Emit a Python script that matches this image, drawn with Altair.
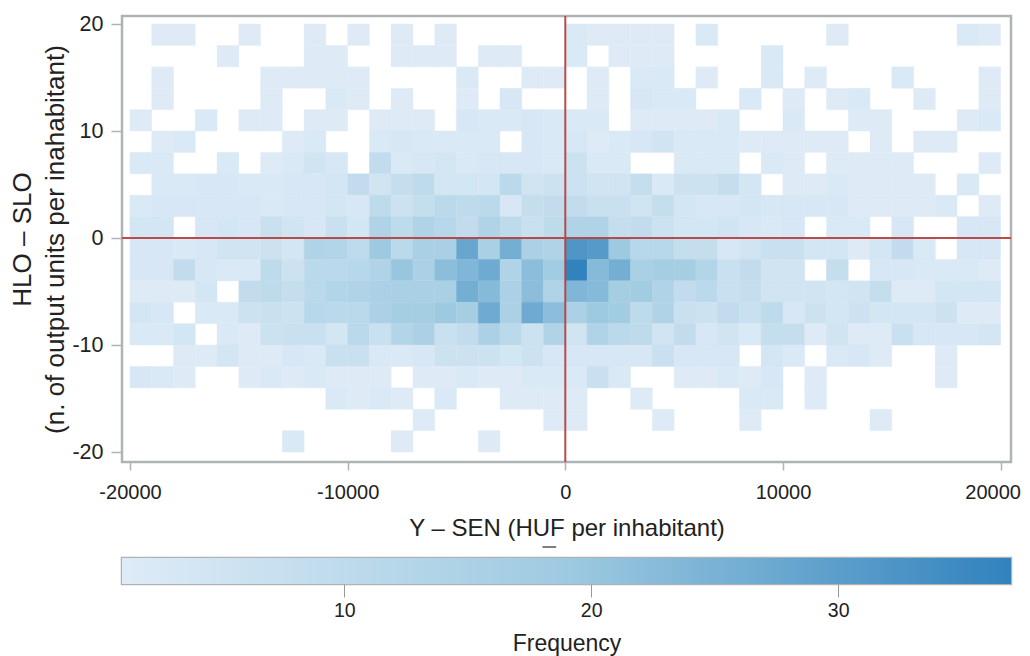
import altair as alt
import pandas as pd

x_edges_start = -20000
x_step = 1000
y_step = 2
# rows from top (18..20) to bottom (-20..-18); 40 columns from -20000 to 20000
row_p18 = [0,1,1,0,0,1,0,0,1,0,1,0,1,0,1,0,0,0,0,0, 2,1,1,1,1,0,2,0,0,0,0,0,1,0,0,0,0,0,2,1]
row_p16 = [0,0,0,0,1,0,0,0,1,1,0,0,1,1,1,0,1,1,0,0, 2,0,1,1,1,0,0,0,0,2,0,0,0,0,0,0,0,0,0,0]
row_p14 = [0,1,0,0,0,0,1,1,1,1,1,0,0,0,0,2,0,0,1,1, 0,1,0,2,2,0,1,0,0,2,0,1,0,0,0,2,0,0,0,1]
row_p12 = [0,1,0,0,0,0,1,0,0,2,1,0,1,0,0,1,0,3,0,0, 0,1,0,3,2,2,0,0,2,0,1,0,1,2,0,0,1,0,0,1]
row_p10 = [1,0,0,2,0,1,1,0,1,1,0,1,1,1,0,3,2,2,3,2, 2,2,0,1,1,1,1,2,0,0,2,0,0,1,1,0,0,0,1,2]
row_p8  = [0,1,2,0,0,0,0,1,2,0,0,2,3,2,2,2,2,0,3,2, 3,1,2,3,5,2,2,2,1,1,1,1,1,0,1,0,1,1,0,0]
row_p6  = [2,2,0,0,2,0,1,2,5,3,0,9,2,3,4,2,3,3,3,2, 6,2,2,0,0,2,2,2,0,2,1,0,1,1,1,1,0,0,0,1]
row_p4  = [0,2,2,3,3,2,2,3,3,4,9,5,8,10,4,4,4,11,5,6, 6,5,5,8,2,6,6,8,4,0,1,1,2,1,1,1,1,0,2,0]
row_p2  = [2,3,3,3,3,3,2,3,3,4,3,10,6,8,11,10,11,3,8,9, 9,7,7,5,8,4,3,3,4,3,3,3,3,1,1,1,1,2,0,1]
row_p0  = [4,4,0,3,4,3,7,5,3,7,4,14,10,14,12,9,14,10,7,10, 14,14,8,9,6,4,4,5,3,2,3,0,2,2,0,3,0,0,3,3]
row_m2  = [3,3,2,3,5,5,6,4,14,13,10,19,11,16,16,28,16,26,15,14, 32,31,19,12,12,8,8,3,5,7,7,4,4,1,4,9,2,0,3,3]
row_m4  = [3,3,9,3,2,2,10,6,11,11,12,14,20,15,22,24,27,14,22,18, 37,23,26,16,17,17,13,7,9,5,5,0,8,0,3,3,2,2,2,1]
row_m6  = [1,1,1,4,0,9,10,8,11,13,14,15,16,16,16,26,23,15,22,14, 24,23,17,18,14,9,11,7,8,5,5,5,4,5,8,1,1,4,4,4]
row_m8  = [4,3,0,2,2,6,7,6,12,11,11,15,17,17,19,17,27,15,27,22, 15,19,18,10,14,7,6,9,7,10,3,6,4,6,4,4,4,6,1,1]
row_m10 = [2,2,4,0,2,1,6,7,7,4,11,7,13,15,7,9,15,11,6,14, 5,14,11,10,5,9,3,5,2,8,8,1,5,1,1,7,3,3,3,4]
row_m12 = [0,0,1,1,4,1,1,3,2,7,7,2,2,3,6,6,6,4,6,3, 3,3,3,3,7,3,3,3,0,4,2,0,2,3,1,0,0,1,0,0]
row_m14 = [3,2,1,0,0,1,2,1,2,1,1,1,0,1,1,2,1,1,2,2, 2,7,2,0,0,1,1,2,1,3,0,1,0,0,0,0,0,1,0,0]
row_m16 = [0,0,0,0,0,0,0,0,0,2,1,2,1,0,2,0,0,1,1,1, 1,0,0,1,0,0,0,0,2,2,0,1,0,0,0,0,0,0,0,0]
row_m18 = [0,0,0,0,0,0,0,0,0,0,0,0,0,1,0,0,0,0,0,1, 1,0,0,0,1,0,0,0,1,0,0,0,0,0,1,0,0,0,0,0]
row_m20 = [0,0,0,0,0,0,0,2,0,0,0,0,1,0,0,0,1,0,0,0, 0,0,0,0,0,0,0,0,0,0,0,0,0,0,0,0,0,0,0,0]

rows = {18: row_p18, 16: row_p16, 14: row_p14, 12: row_p12, 10: row_p10,
        8: row_p8, 6: row_p6, 4: row_p4, 2: row_p2, 0: row_p0,
        -2: row_m2, -4: row_m4, -6: row_m6, -8: row_m8, -10: row_m10,
        -12: row_m12, -14: row_m14, -16: row_m16, -18: row_m18, -20: row_m20}

records = []
for y0, vals in rows.items():
    for i, v in enumerate(vals):
        if v > 0:
            x0 = x_edges_start + i * x_step
            records.append(dict(x=x0, x2=x0 + x_step, y=y0, y2=y0 + y_step, freq=v))
df = pd.DataFrame(records)

x_ticks = [-20000, -10000, 0, 10000, 20000]
y_ticks = [-20, -10, 0, 10, 20]
legend_ticks = [10, 20, 30]
freq_domain = [1, 37]
ramp = ["#deebf7", "#9ecae1", "#3182bd"]

FONT = "Liberation Sans"
TXT = "#222222"
FRAME = "#aeb3b6"
W, H = 889, 446
xscale = alt.Scale(domain=[-20367, 20477], nice=False, zero=False)
yscale = alt.Scale(domain=[-20.93, 20.75], nice=False, zero=False)
cscale = alt.Scale(domain=freq_domain, range=ramp, interpolate="rgb")
xaxis = alt.Axis(values=x_ticks, title="Y – SEN (HUF per inhabitant)",
                 labelExpr="'' + datum.value", grid=False, domain=False,
                 tickSize=8, tickWidth=1.5, tickColor=FRAME, labelPadding=12,
                 labelOffset={"condition": {"test": "datum.value == 20000", "value": -8}, "value": 0},
                 labelFontSize=20, titleFontSize=24, titlePadding=14)
yaxis = alt.Axis(values=y_ticks, title=["HLO – SLO", "(n. of output units per inahabitant)"],
                 labelExpr="'' + datum.value", grid=False, domain=False,
                 tickSize=11, tickWidth=1.5, tickColor=FRAME, labelPadding=8,
                 labelFontSize=21.5, titleFontSize=26, titleLineHeight=33, titlePadding=3)

heat = alt.Chart(df).mark_rect(strokeWidth=0.4).encode(
    x=alt.X("x:Q", scale=xscale, axis=xaxis),
    x2="x2:Q",
    y=alt.Y("y:Q", scale=yscale, axis=yaxis),
    y2="y2:Q",
    color=alt.Color("freq:Q", legend=None, scale=cscale),
    stroke=alt.Stroke("freq:Q", legend=None, scale=cscale),
    tooltip=["x:Q", "y:Q", "freq:Q"],
)

red = "#b5433f"
vline = alt.Chart(pd.DataFrame({"v": [0]})).mark_rule(color=red, strokeWidth=2, opacity=0.95).encode(
    x=alt.X("v:Q", scale=xscale, axis=xaxis))
hline = alt.Chart(pd.DataFrame({"v": [0]})).mark_rule(color=red, strokeWidth=2, opacity=0.95).encode(
    y=alt.Y("v:Q", scale=yscale, axis=yaxis))

dash = alt.Chart(pd.DataFrame({"v": [-1050], "v2": [-420]})).mark_rule(
    color="#555555", strokeWidth=1.5).encode(
    x=alt.X("v:Q", scale=xscale, axis=xaxis), x2="v2:Q", y=alt.value(H + 85))

main = alt.layer(heat, vline, hline, dash).properties(width=W, height=H)

bar_df = pd.DataFrame({"a": [freq_domain[0]], "b": [freq_domain[1]]})
bar = alt.Chart(bar_df).mark_rect(
    color=alt.Gradient(gradient="linear", x1=0, x2=1, y1=0, y2=0,
                       stops=[alt.GradientStop(color=ramp[0], offset=0),
                              alt.GradientStop(color=ramp[1], offset=0.5),
                              alt.GradientStop(color=ramp[2], offset=1)])
).encode(
    x=alt.X("a:Q", scale=alt.Scale(domain=freq_domain, nice=False, zero=False),
            axis=alt.Axis(values=legend_ticks, title="Frequency", grid=False, domain=False,
                          tickSize=13, tickWidth=1, tickColor="#999999", labelPadding=4,
                          labelFontSize=19.5, titleFontSize=23, titlePadding=13)),
    x2="b:Q",
).properties(width=W, height=26)

chart = alt.vconcat(main, bar, spacing=7).properties(
    padding={"left": 0, "top": 3, "right": 0, "bottom": 0}
).configure_view(stroke=FRAME, strokeWidth=2.5).configure_axis(
    labelFont=FONT, titleFont=FONT,
    labelColor=TXT, titleColor=TXT, titleFontWeight="normal", labelOverlap=False,
)

chart.save("out.html", embed_options={"renderer": "svg", "actions": False})
